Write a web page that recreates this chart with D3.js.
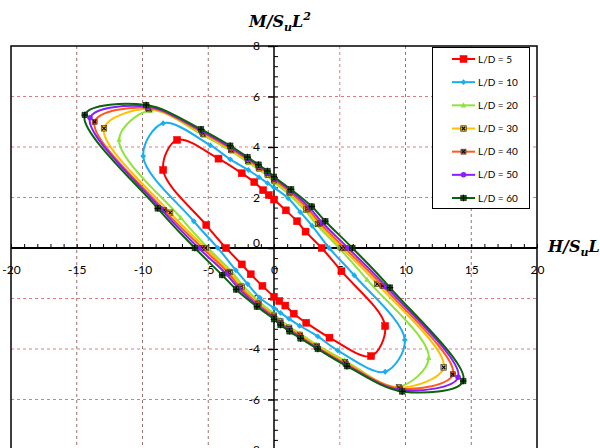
<!DOCTYPE html>
<html>
<head>
<meta charset="utf-8">
<style>
  body { margin: 0; background: #fff; }
  .tick text { font-family: Lato, "Liberation Sans", sans-serif; font-size: 12px; fill: #000; }
</style>
<script src="https://d3js.org/d3.v7.min.js"></script>
</head>
<body>
<div id="chart"></div>
<script>
  // [H/SuL, M/SuL^2] pairs, going round each loop
  const ld5 = [
    [-7.37, 4.28], [-4.22, 3.54], [-2.45, 2.96], [-1.5, 2.61], [-0.83, 2.29], [-0.4, 2.1], [0, 1.92],
    [0.9, 1.49], [1.75, 1.06], [2.4, 0.65], [3.63, 0], [5.13, -0.92], [8.45, -3.09],
    [7.38, -4.28], [4.22, -3.55], [2.45, -2.96], [1.5, -2.6], [0.86, -2.28], [0.4, -2.1], [0, -1.93],
    [-0.88, -1.5], [-1.77, -1.04], [-2.45, -0.65], [-3.65, 0], [-5.15, 0.91], [-8.43, 3.09]
  ];
  const ld10 = [
    [-8.43, 4.94], [-4.85, 4.07], [-3.33, 3.51], [-1.95, 3.09], [-1.14, 2.8], [-0.5, 2.57], [0, 2.39],
    [1.08, 1.97], [2.0, 1.42], [2.9, 0.88], [4.19, 0], [6.1, -1.08], [9.95, -3.64],
    [8.45, -4.9], [4.85, -4.06], [3.33, -3.5], [1.95, -3.08], [1.14, -2.8], [0.5, -2.57], [0, -2.38],
    [-1.08, -1.97], [-2.0, -1.43], [-2.9, -0.88], [-4.27, 0], [-6.1, 1.06], [-9.95, 3.64]
  ];
  const ld20 = [
    [-9.42, 5.45], [-5.35, 4.45], [-3.2, 3.82], [-1.95, 3.38], [-1.13, 3.1], [-0.48, 2.85], [0, 2.6],
    [1.14, 2.13], [2.38, 1.48], [3.25, 0.92], [4.95, 0], [7.07, -1.25], [11.77, -4.35],
    [9.42, -5.5], [5.35, -4.45], [3.2, -3.82], [1.95, -3.38], [1.13, -3.1], [0.48, -2.85], [0, -2.6],
    [-1.14, -2.13], [-2.38, -1.48], [-3.25, -0.92], [-5.02, 0], [-7.1, 1.2], [-11.78, 4.3]
  ];
  const ld30 = [
    [-9.5, 5.5], [-5.4, 4.52], [-3.25, 3.88], [-1.97, 3.44], [-1.15, 3.16], [-0.48, 2.91], [0, 2.68],
    [1.18, 2.2], [2.47, 1.53], [3.37, 0.95], [5.15, 0], [7.85, -1.42], [12.9, -4.73],
    [9.5, -5.52], [5.4, -4.52], [3.25, -3.88], [1.97, -3.44], [1.15, -3.16], [0.48, -2.91], [0, -2.68],
    [-1.18, -2.2], [-2.47, -1.53], [-3.37, -0.95], [-5.2, 0], [-7.9, 1.4], [-12.93, 4.74]
  ];
  const ld40 = [
    [-9.58, 5.55], [-5.45, 4.58], [-3.28, 3.93], [-2.0, 3.5], [-1.16, 3.21], [-0.49, 2.96], [0, 2.72],
    [1.22, 2.23], [2.58, 1.56], [3.5, 0.98], [5.38, 0], [8.25, -1.5], [13.6, -5.0],
    [9.58, -5.57], [5.45, -4.58], [3.28, -3.93], [2.0, -3.5], [1.16, -3.21], [0.49, -2.96], [0, -2.72],
    [-1.22, -2.23], [-2.58, -1.56], [-3.5, -0.98], [-5.45, 0], [-8.35, 1.5], [-13.64, 5.0]
  ];
  const ld50 = [
    [-9.62, 5.6], [-5.5, 4.64], [-3.3, 3.98], [-2.0, 3.55], [-1.17, 3.26], [-0.5, 3.0], [0, 2.78],
    [1.26, 2.28], [2.7, 1.6], [3.65, 1.02], [5.63, 0], [8.55, -1.54], [14.0, -5.12],
    [9.62, -5.62], [5.5, -4.64], [3.3, -3.98], [2.0, -3.55], [1.17, -3.26], [0.5, -3.0], [0, -2.78],
    [-1.26, -2.28], [-2.7, -1.6], [-3.65, -1.02], [-5.73, 0], [-8.6, 1.55], [-13.99, 5.16]
  ];
  const ld60 = [
    [-9.72, 5.66], [-5.55, 4.7], [-3.33, 4.05], [-2.02, 3.6], [-1.18, 3.3], [-0.5, 3.05], [0, 2.82],
    [1.3, 2.32], [2.88, 1.64], [3.9, 1.06], [5.96, 0], [8.82, -1.57], [14.39, -5.27],
    [9.75, -5.68], [5.55, -4.68], [3.33, -4.0], [2.02, -3.58], [1.18, -3.3], [0.5, -3.05], [0, -2.82],
    [-1.3, -2.32], [-2.88, -1.64], [-3.95, -1.07], [-6.02, 0], [-8.84, 1.57], [-14.39, 5.27]
  ];

  const seriesNames = ["L/D = 5", "L/D = 10", "L/D = 20", "L/D = 30", "L/D = 40", "L/D = 50", "L/D = 60"];
  const seriesData = [ld5, ld10, ld20, ld30, ld40, ld50, ld60];

  const xTicks = [-20, -15, -10, -5, 0, 5, 10, 15, 20];
  const yTicks = [-8, -6, -4, -2, 0, 2, 4, 6, 8];

  // look of each series (colour, marker)
  const styles = [
    { color: "#ff0000", marker: "square", size: 7 },
    { color: "#19aef0", marker: "diamond", size: 4.5 },
    { color: "#8fe33a", marker: "triangle", size: 5 },
    { color: "#ffc000", marker: "squareX", size: 5.5 },
    { color: "#ff5a1e", marker: "squareX", size: 5 },
    { color: "#8a1cff", marker: "circle", size: 5.5 },
    { color: "#0a640a", marker: "squarePlus", size: 5.5 }
  ];

  const svg = d3.select("#chart").append("svg")
    .attr("width", 600)
    .attr("height", 448);

  const x = d3.scaleLinear().domain([-20, 20]).range([11, 537]);
  const y = d3.scaleLinear().domain([-8, 8]).range([450, 46]);

  // plot area
  svg.append("rect")
    .attr("x", x(-20)).attr("y", y(8))
    .attr("width", x(20) - x(-20)).attr("height", y(-8) - y(8))
    .style("fill", "white");

  // dashed grid
  svg.selectAll(".vgrid")
    .data(xTicks.filter(d => d !== 0 && Math.abs(d) !== 20))
    .enter().append("line")
    .attr("x1", d => x(d)).attr("x2", d => x(d))
    .attr("y1", y(8)).attr("y2", y(-8))
    .style("stroke", d => d === 5 ? "#e27c7c" : "#9a7272")
    .style("stroke-width", 1)
    .style("stroke-dasharray", "3,3");

  svg.selectAll(".hgrid")
    .data(yTicks.filter(d => d !== 0 && Math.abs(d) !== 8))
    .enter().append("line")
    .attr("x1", x(-20)).attr("x2", x(20))
    .attr("y1", d => y(d)).attr("y2", d => y(d))
    .style("stroke", "#e27c7c")
    .style("stroke-width", 1)
    .style("stroke-dasharray", "3,3");

  // x axis: minor ticks upward, labels below
  svg.append("g")
    .attr("transform", `translate(0,${y(0)})`)
    .call(d3.axisTop(x).tickValues(d3.range(-20, 21, 1)).tickSize(4).tickSizeOuter(0).tickFormat(""))
    .call(g => g.select(".domain").remove())
    .selectAll("line").style("stroke", "black").style("stroke-width", 1);

  svg.append("g")
    .attr("transform", `translate(0,${y(0)})`)
    .call(d3.axisBottom(x).tickValues(xTicks).tickSize(0).tickPadding(17).tickFormat(d => String(d)))
    .call(g => g.select(".domain").remove());

  svg.append("line")
    .attr("x1", x(-20)).attr("x2", x(20))
    .attr("y1", y(0)).attr("y2", y(0))
    .style("stroke", "black").style("stroke-width", 2);

  // y axis
  svg.append("g")
    .attr("transform", `translate(${x(0)},0)`)
    .call(d3.axisRight(y).tickValues(d3.range(-40, 41, 2).map(v => v / 5)).tickSize(4).tickSizeOuter(0).tickFormat(""))
    .call(g => g.select(".domain").remove())
    .selectAll("line").style("stroke", "black").style("stroke-width", 1);

  svg.append("g")
    .attr("transform", `translate(${x(0)},0)`)
    .call(d3.axisLeft(y).tickValues(yTicks).tickSize(6).tickSizeOuter(0).tickPadding(8).tickFormat(d => String(d)))
    .call(g => g.select(".domain").remove())
    .call(g => g.selectAll("line").style("stroke", "black").style("stroke-width", 1.5))
    .call(g => g.selectAll("text").attr("dy", d => d === 0 ? "-0.1em" : "0.32em"));

  svg.append("line")
    .attr("x1", x(0)).attr("x2", x(0))
    .attr("y1", y(8)).attr("y2", y(-8))
    .style("stroke", "black").style("stroke-width", 1.5);

  // plot border
  svg.append("rect")
    .attr("x", x(-20)).attr("y", y(8))
    .attr("width", x(20) - x(-20)).attr("height", y(-8) - y(8))
    .style("fill", "none").style("stroke", "black").style("stroke-width", 1.5);

  function drawMarker(g, st) {
    const s = st.size;
    if (st.marker === "square" || st.marker === "squareX" || st.marker === "squarePlus") {
      g.append("rect")
        .attr("x", -s / 2).attr("y", -s / 2).attr("width", s).attr("height", s)
        .style("fill", st.color)
        .style("stroke", st.marker === "square" ? st.color : "#222")
        .style("stroke-width", st.marker === "square" ? 0.5 : 0.6);
      if (st.marker === "squareX") {
        g.append("path")
          .attr("d", `M${-s / 2 + 1},${-s / 2 + 1}L${s / 2 - 1},${s / 2 - 1}M${s / 2 - 1},${-s / 2 + 1}L${-s / 2 + 1},${s / 2 - 1}`)
          .style("stroke", "#000").style("stroke-width", 1.1);
      }
      if (st.marker === "squarePlus") {
        g.append("path")
          .attr("d", `M0,${-s / 2 - 0.5}V${s / 2 + 0.5}M${-s / 2 - 0.5},0H${s / 2 + 0.5}`)
          .style("stroke", "#000").style("stroke-width", 1.1);
      }
    } else if (st.marker === "diamond") {
      g.append("path")
        .attr("d", `M0,${-s * 0.65}L${s * 0.65},0L0,${s * 0.65}L${-s * 0.65},0Z`)
        .style("fill", st.color);
    } else if (st.marker === "triangle") {
      g.append("path")
        .attr("d", `M0,${-s * 0.6}L${s * 0.55},${s * 0.45}L${-s * 0.55},${s * 0.45}Z`)
        .style("fill", st.color);
    } else if (st.marker === "circle") {
      g.append("circle").attr("r", s / 2).style("fill", st.color);
    }
  }

  const line = d3.line()
    .x(d => x(d[0]))
    .y(d => y(d[1]))
    .curve(d3.curveCatmullRomClosed.alpha(0.5));

  seriesData.forEach((data, i) => {
    const st = styles[i];
    const g = svg.append("g");
    g.append("path")
      .datum(data)
      .attr("d", line)
      .style("fill", "none")
      .style("stroke", st.color)
      .style("stroke-width", 2);
    g.selectAll(".pt")
      .data(data)
      .enter().append("g")
      .attr("transform", d => `translate(${x(d[0])},${y(d[1])})`)
      .each(function () { drawMarker(d3.select(this), st); });
  });

  // legend
  const legend = svg.append("g");
  legend.append("rect")
    .attr("x", 432.5).attr("y", 47.5).attr("width", 97).attr("height", 161)
    .style("fill", "white").style("stroke", "black").style("stroke-width", 1);

  const legendY = d3.scalePoint().domain(seriesNames).range([59, 198]);
  seriesNames.forEach((name, i) => {
    const st = styles[i];
    const row = legend.append("g").attr("transform", `translate(0,${legendY(name)})`);
    row.append("line")
      .attr("x1", 452).attr("x2", 475)
      .style("stroke", st.color).style("stroke-width", 2);
    const m = row.append("g").attr("transform", "translate(463.5,0)");
    drawMarker(m, st);
    row.append("text")
      .attr("x", 478).attr("y", 0).attr("dy", "0.35em")
      .style("font-family", "Lato, 'Liberation Sans', sans-serif")
      .style("font-size", "10px")
      .text(name);
  });

  // axis titles
  const titleFont = "'DejaVu Serif', serif";
  const mTitle = svg.append("text")
    .attr("x", 249).attr("y", 27)
    .style("font-family", titleFont).style("font-weight", "bold").style("font-style", "italic")
    .style("font-size", "16px");
  mTitle.append("tspan").text("M/S");
  mTitle.append("tspan").attr("dy", 4).style("font-size", "11px").text("u");
  mTitle.append("tspan").attr("dy", -4).text("L");
  mTitle.append("tspan").attr("dy", -7).style("font-size", "11px").text("2");

  const hTitle = svg.append("text")
    .attr("x", 548).attr("y", 252)
    .style("font-family", titleFont).style("font-weight", "bold").style("font-style", "italic")
    .style("font-size", "16px");
  hTitle.append("tspan").text("H/S");
  hTitle.append("tspan").attr("dy", 4).style("font-size", "11px").text("u");
  hTitle.append("tspan").attr("dy", -4).text("L");
</script>
</body>
</html>
